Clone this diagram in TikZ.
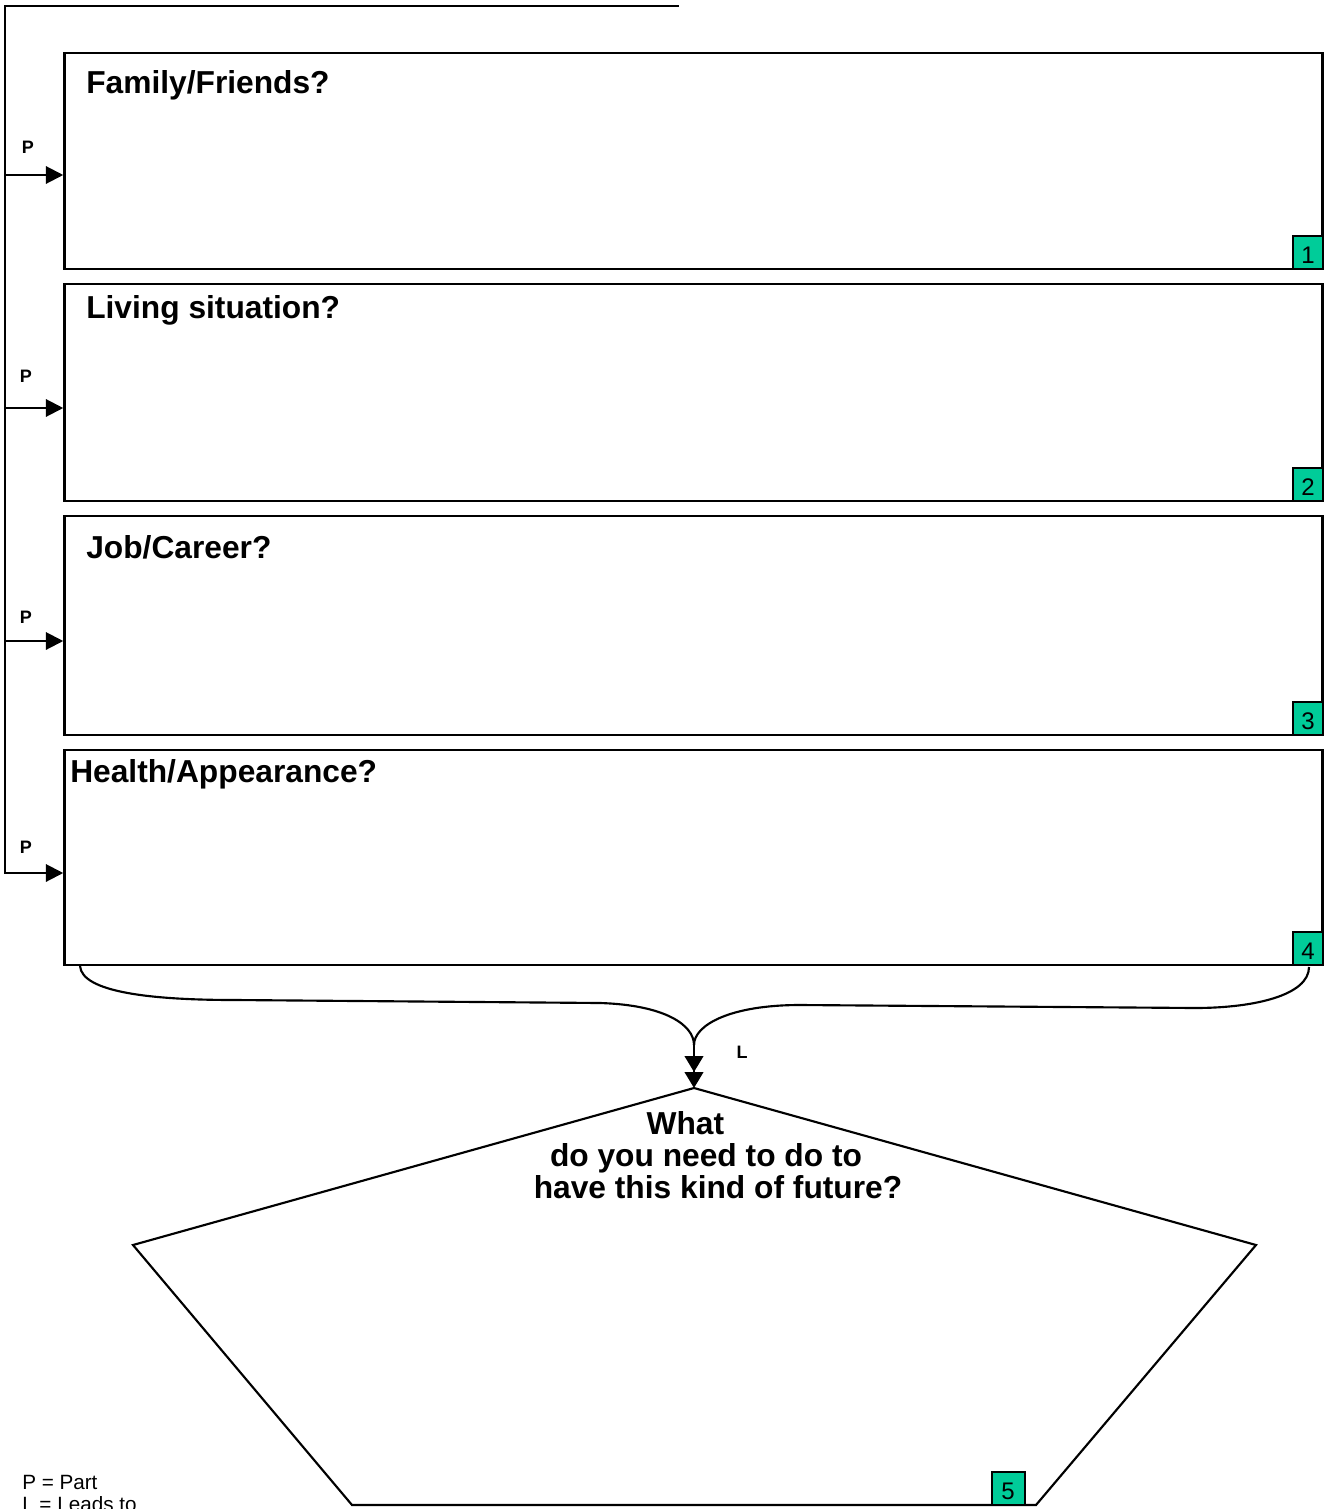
\documentclass[tikz,border=0pt]{standalone}
\usepackage{fontspec}
\setmainfont{Liberation Sans}
\usetikzlibrary{arrows.meta}
\definecolor{numgreen}{RGB}{0,204,153}
\begin{document}
\begin{tikzpicture}[x=0.75pt,y=-0.75pt,
  frame/.style={draw,line width=1.9pt,minimum width=943.5pt,inner sep=0pt},
  title/.style={anchor=base west,font=\fontsize{23.8}{24}\selectfont\bfseries,inner sep=0pt},
  plabel/.style={font=\fontsize{13.5}{15}\selectfont\bfseries,inner sep=0pt},
  numbox/.style={draw,line width=1.5pt,fill=numgreen,minimum width=22pt,minimum height=24.75pt,inner sep=0pt,anchor=south east,font=\fontsize{18}{19}\selectfont,text height=16pt,text depth=0pt},
  link/.style={line width=1.6pt},
  parrow/.style={line width=1.6pt,-{Triangle[length=13pt,width=13pt]}},
  dtip/.style={line width=1.6pt,-{Triangle[length=12pt,width=14pt]Triangle[length=12pt,width=14pt]}},
]
\useasboundingbox (0,0) rectangle (1324,1509);

% boxes
\node[frame,minimum height=162pt]    (b1) at (693.5,161)   {};
\node[frame,minimum height=162.75pt] (b2) at (693.5,392.5) {};
\node[frame,minimum height=164.25pt] (b3) at (693.5,625.5) {};
\node[frame,minimum height=161.25pt] (b4) at (693.5,857.5) {};

\node[title] (t1) at (86,94)  {Family/Friends?};
\node[title] (t2) at (86,318) {Living situation?};
\node[title] (t3) at (86,558) {Job/Career?};
\node[title] (t4) at (70,782) {Health/Appearance?};

\node[numbox] (n1) at (b1.south east) {1};
\node[numbox] (n2) at (b2.south east) {2};
\node[numbox] (n3) at (b3.south east) {3};
\node[numbox] (n4) at (b4.south east) {4};

% spine and P arrows
\coordinate (t0) at (5,6);
\coordinate (tend) at (678,6);
\coordinate (s1) at (5,175);
\coordinate (s2) at (5,408);
\coordinate (s3) at (5,641);
\coordinate (s4) at (5,873);
\draw[link,line cap=rect] (tend) -- (t0) -- (s4);
\draw[parrow] (s1) -- (s1 -| b1.west);
\draw[parrow] (s2) -- (s2 -| b2.west);
\draw[parrow] (s3) -- (s3 -| b3.west);
\draw[parrow] (s4) -- (s4 -| b4.west);
\node[plabel] (p1) at (28,147) {P};
\node[plabel] (p2) at (26,376) {P};
\node[plabel] (p3) at (26,617) {P};
\node[plabel] (p4) at (26,847) {P};

% pentagon
\coordinate (pa) at (694,1088);
\coordinate (pb) at (1256,1245);
\coordinate (pc) at (1036,1505);
\coordinate (pd) at (352,1505);
\coordinate (pe) at (133,1245);
\draw[link,line join=miter] (pa) -- (pb) -- (pc) -- (pd) -- (pe) -- cycle;
\node[font=\fontsize{23.8}{24}\selectfont\bfseries,align=center,inner sep=0pt] (q) at (718,1155)
  {What\rule{49pt}{0pt}\\do you need to do to\rule{18pt}{0pt}\\have this kind of future?};
\node[numbox,anchor=south,minimum width=24.75pt] (n5) at (1008,1506) {5};

% brace
\coordinate (bl) at (80,966);
\coordinate (br) at (1309,967);
\coordinate (j) at (694,1045);
\draw[link] (bl) .. controls (82,992) and (150,1000) .. (235,1000) -- (600,1003)
  .. controls (665,1005) and (694,1025) .. (j);
\draw[link] (br) .. controls (1309,995) and (1255,1008) .. (1195,1008) -- (800,1005)
  .. controls (730,1005) and (694,1025) .. (j);
\draw[dtip] (j) -- (pa);
\node[plabel] (lab) at (742,1052) {L};

% legend
\node[anchor=north west,align=left,inner sep=0pt,font=\fontsize{15.5}{16.5}\selectfont] (legend) at (22,1475)
  {P = Part\\L = Leads to};
\end{tikzpicture}
\end{document}
